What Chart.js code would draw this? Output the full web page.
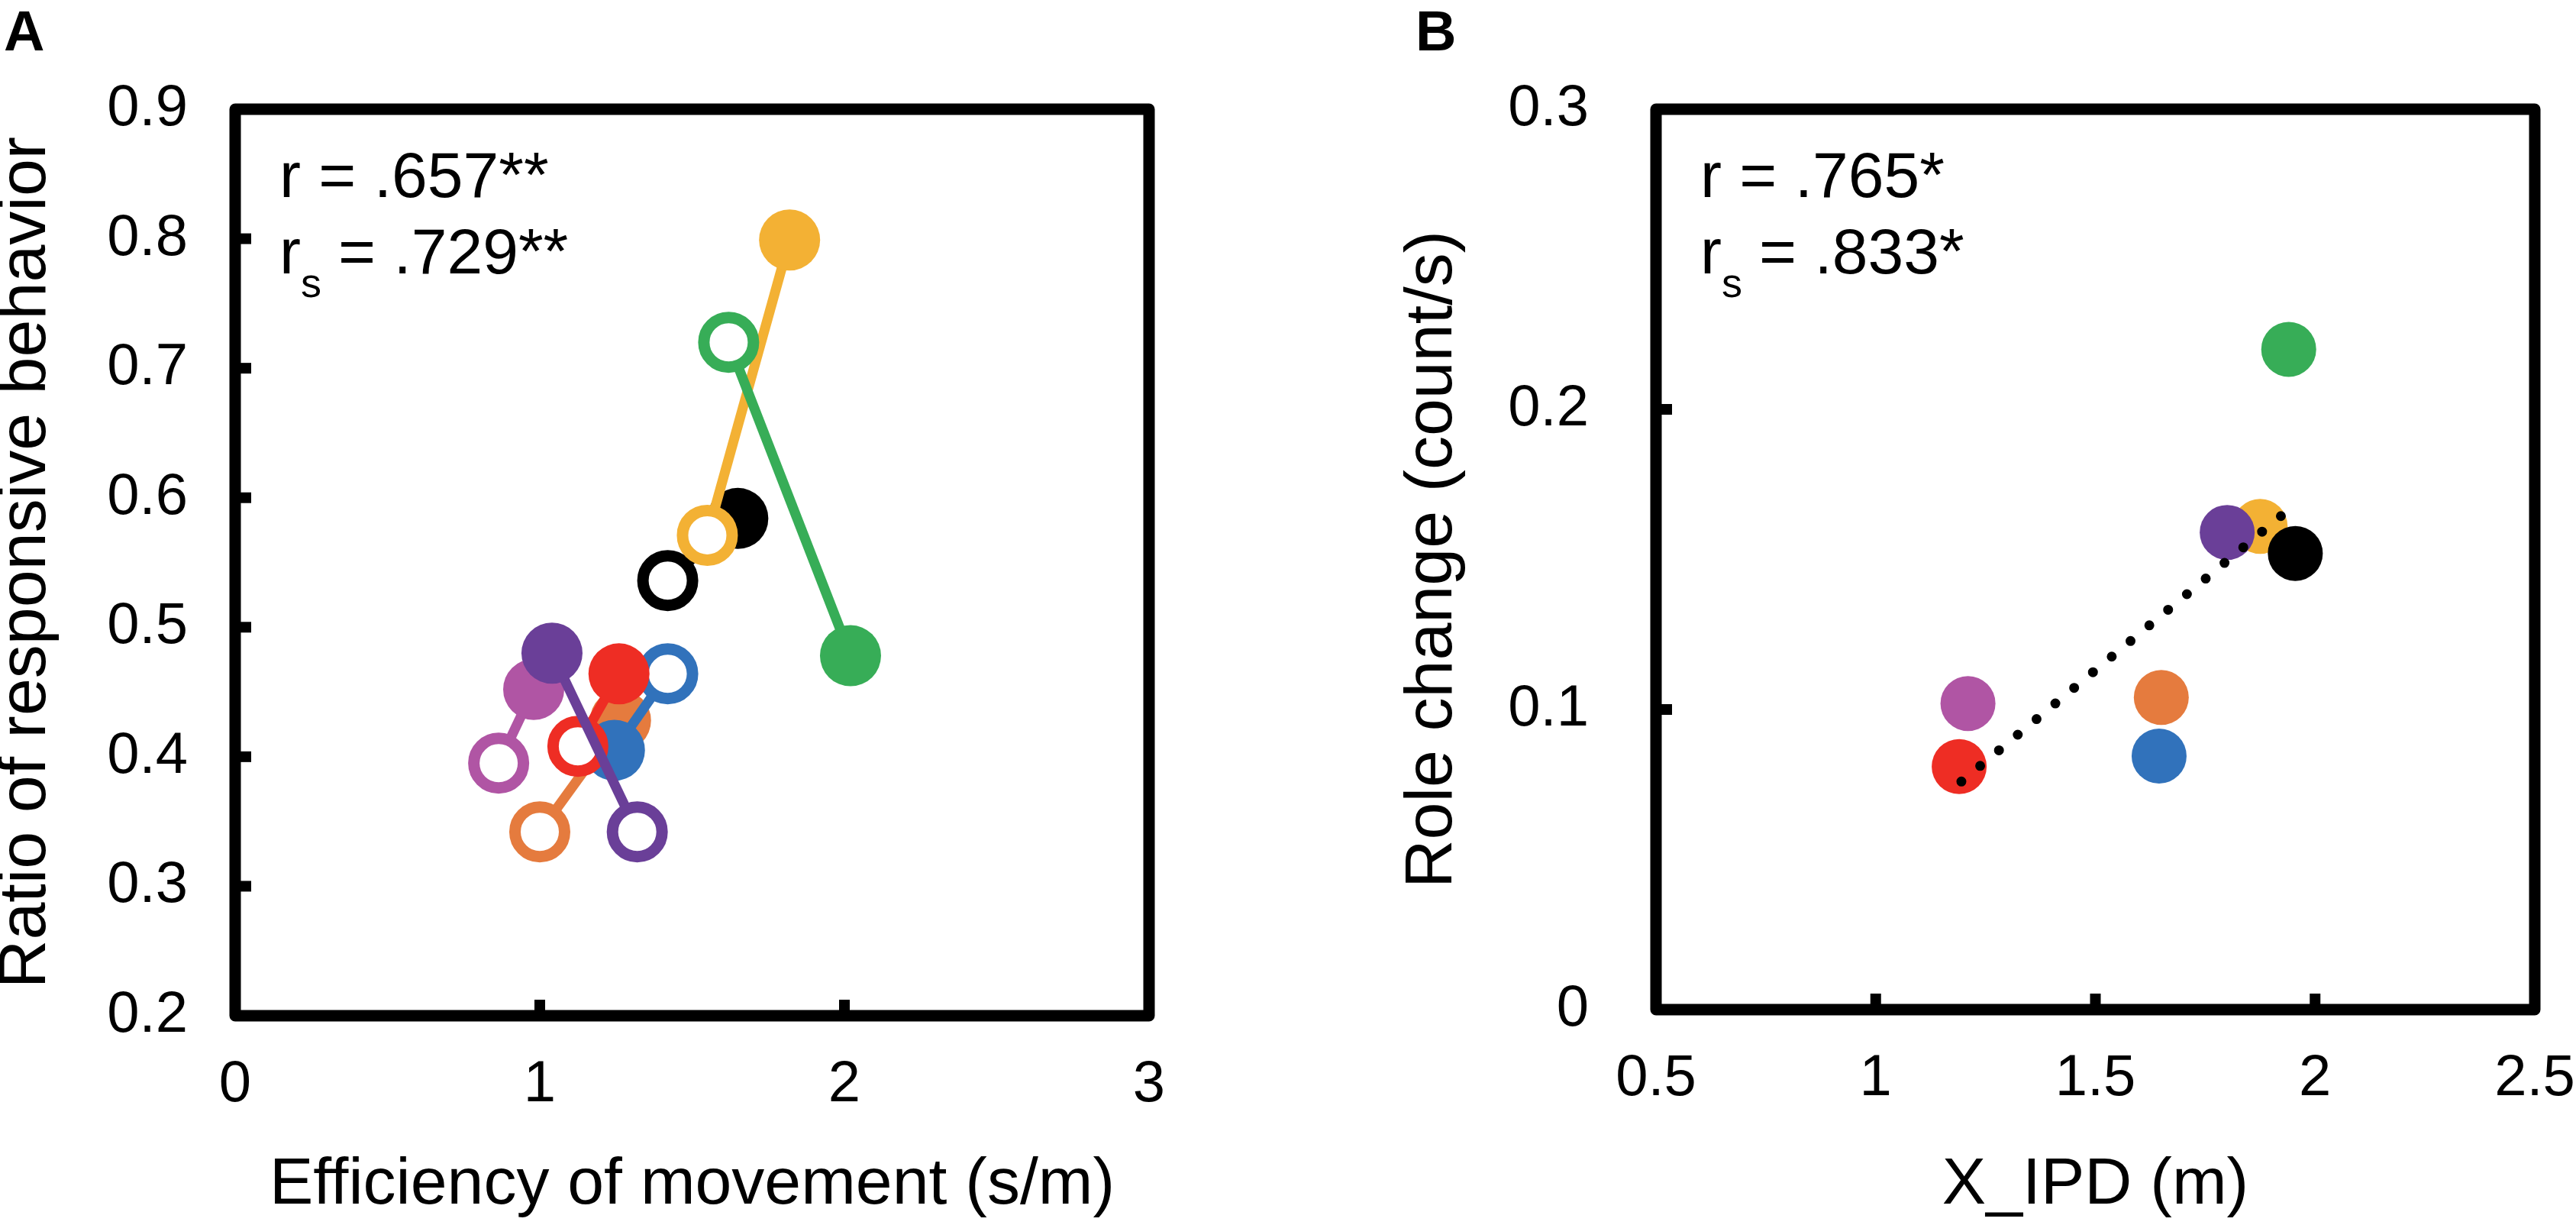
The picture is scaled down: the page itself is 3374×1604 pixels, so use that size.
<!DOCTYPE html>
<html>
<head>
<meta charset="utf-8">
<script src="https://cdn.jsdelivr.net/npm/chart.js@4.4.1/dist/chart.umd.min.js"></script>
<style>
  body { margin: 0; background: #fff; }
  canvas { position: absolute; top: 0; }
</style>
</head>
<body>
<canvas id="chartA" width="1687" height="1604" style="left:0"></canvas>
<canvas id="chartB" width="1687" height="1604" style="left:1687px"></canvas>
<script>
// pairs, listed top-most first (Chart.js draws dataset 0 last)
const pairNames  = ['purple', 'red', 'blue', 'orange', 'pink', 'green', 'yellow', 'black'];
const pairColors = ['#6a3f98', '#ee2d24', '#3172bb', '#e57b3e', '#b055a4', '#37ad57', '#f3b134', '#000000'];

// panel A: open marker = one condition, filled marker = the other
const effOpen     = [1.32, 1.125, 1.42, 1.00, 0.865, 1.62, 1.55, 1.42];
const ratioOpen   = [0.342, 0.408, 0.464, 0.342, 0.395, 0.720, 0.571, 0.536];
const effFilled   = [1.04, 1.26, 1.245, 1.265, 0.98, 2.02, 1.82, 1.65];
const ratioFilled = [0.480, 0.464, 0.405, 0.428, 0.452, 0.478, 0.799, 0.584];

// panel B
const xIPD       = [1.80, 1.19, 1.645, 1.65, 1.21, 1.94, 1.875, 1.955];
const roleChange = [0.159, 0.081, 0.0845, 0.104, 0.102, 0.220, 0.161, 0.152];
const orderB     = [7, 0, 6, 1, 2, 3, 4, 5];   // black over purple over yellow
const trendX = [1.195, 1.935];
const trendY = [0.076, 0.166];

// tick labels
const xTicksA = ['0', '1', '2', '3'];
const yTicksA = ['0.2', '0.3', '0.4', '0.5', '0.6', '0.7', '0.8', '0.9'];
const xTicksB = ['0.5', '1', '1.5', '2', '2.5'];
const yTicksB = ['0', '0.1', '0.2', '0.3'];

const FONT = '"Liberation Sans", Arial, sans-serif';

// frame, inward ticks, panel letter and the r / rs notes
const boxPlugin = {
  id: 'box',
  afterDraw(chart, args, opts) {
    const { ctx, chartArea: a, scales: { x, y } } = chart;
    ctx.save();
    ctx.strokeStyle = '#000';
    ctx.lineWidth = 15;
    ctx.lineJoin = 'round';
    ctx.strokeRect(a.left, a.top, a.right - a.left, a.bottom - a.top);
    ctx.lineWidth = 14;
    y.ticks.slice(1, -1).forEach(t => {
      const py = y.getPixelForValue(t.value);
      ctx.beginPath(); ctx.moveTo(a.left, py); ctx.lineTo(a.left + 21, py); ctx.stroke();
    });
    x.ticks.slice(1, -1).forEach(t => {
      const px = x.getPixelForValue(t.value);
      ctx.beginPath(); ctx.moveTo(px, a.bottom); ctx.lineTo(px, a.bottom - 21); ctx.stroke();
    });

    ctx.fillStyle = '#000';
    ctx.textBaseline = 'alphabetic';
    ctx.textAlign = 'left';
    ctx.font = 'bold 74px ' + FONT;
    ctx.fillText(opts.letter, opts.letterX, 66);

    const tx = a.left + 58;
    ctx.font = '84px ' + FONT;
    ctx.fillText('r = ' + opts.r, tx, 258);
    ctx.fillText('r', tx, 358);
    ctx.fillText('= ' + opts.rs, tx + 77, 358);
    ctx.font = '54px ' + FONT;
    ctx.fillText('s', tx + 28, 389);
    ctx.restore();
  }
};

function axis(min, max, step, labels, title, fit, isX, pad) {
  return {
    type: 'linear', min: min, max: max,
    ticks: {
      stepSize: step, autoSkip: false, maxRotation: 0, color: '#000', padding: pad,
      font: { family: FONT, size: 76 },
      callback: v => labels[Math.round((v - min) / step)]
    },
    grid: { display: false, drawTicks: false },
    border: { display: false },
    title: {
      display: true, text: title, color: '#000', padding: 0,
      font: { family: FONT, size: isX ? 86 : 88, lineHeight: isX ? 1.2 : 0.8 }
    },
    afterFit(s) {
      if (isX) { s.height = fit; s.paddingLeft = 0; s.paddingRight = 0; }
      else { s.width = fit; s.paddingTop = 0; s.paddingBottom = 0; }
    }
  };
}

// ---- panel A ----
const dataA = pairNames.map((name, i) => ({
  label: name,
  data: [{ x: effOpen[i], y: ratioOpen[i] }, { x: effFilled[i], y: ratioFilled[i] }],
  showLine: true,
  borderColor: pairColors[i],
  borderWidth: 13,
  pointRadius: [32.5, 40],
  pointBorderWidth: [15, 0],
  pointBorderColor: pairColors[i],
  pointBackgroundColor: ['#ffffff', pairColors[i]]
}));

new Chart(document.getElementById('chartA'), {
  type: 'scatter',
  data: { datasets: dataA },
  options: {
    responsive: false, animation: false, devicePixelRatio: 1,
    layout: { padding: { top: 143, right: 182, left: 0, bottom: 0 } },
    scales: {
      x: axis(0, 3, 1, xTicksA, 'Efficiency of movement (s/m)', 274, true, 45),
      y: axis(0.2, 0.9, 0.1, yTicksA, 'Ratio of responsive behavior', 308, false, 62)
    },
    plugins: {
      legend: { display: false }, tooltip: { enabled: false },
      box: { letter: 'A', letterX: 5, r: '.657**', rs: '.729**' }
    }
  },
  plugins: [boxPlugin]
});

// ---- panel B ----
const dataB = [{
  label: 'trend',
  data: trendX.map((x, i) => ({ x: x, y: trendY[i] })),
  showLine: true,
  borderColor: '#000',
  borderWidth: 13,
  borderDash: [0, 32],
  borderCapStyle: 'round',
  pointRadius: 0
}].concat(orderB.map(i => ({
  label: pairNames[i],
  data: [{ x: xIPD[i], y: roleChange[i] }],
  pointRadius: 36,
  pointBorderWidth: 0,
  pointBackgroundColor: pairColors[i]
})));

new Chart(document.getElementById('chartB'), {
  type: 'scatter',
  data: { datasets: dataB },
  options: {
    responsive: false, animation: false, devicePixelRatio: 1,
    layout: { padding: { top: 143, right: 54, left: 155, bottom: 0 } },
    scales: {
      x: axis(0.5, 2.5, 0.5, xTicksB, 'X_IPD (m)', 282, true, 45),
      y: axis(0, 0.3, 0.1, yTicksB, 'Role change (count/s)', 327, false, 88)
    },
    plugins: {
      legend: { display: false }, tooltip: { enabled: false },
      box: { letter: 'B', letterX: 167, r: '.765*', rs: '.833*' }
    }
  },
  plugins: [boxPlugin]
});
</script>
</body>
</html>
